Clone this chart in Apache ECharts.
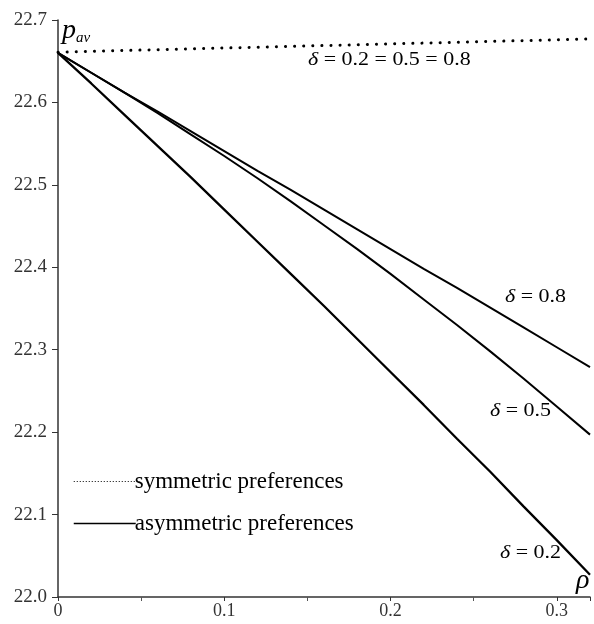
<!DOCTYPE html>
<html><head><meta charset="utf-8">
<script src="https://cdn.jsdelivr.net/npm/echarts@6/dist/echarts.min.js"></script>
<style>html,body{margin:0;padding:0;background:#fff}#c{width:594px;height:624px}</style>
</head><body><div id="c"></div>
<script>
const rho = [0, 0.02, 0.04, 0.06, 0.08, 0.10, 0.12, 0.14, 0.16, 0.18, 0.20, 0.22, 0.24, 0.26, 0.28, 0.30, 0.32];
const symmetric = [22.661, 22.662, 22.663, 22.664, 22.665, 22.666, 22.667, 22.668, 22.669, 22.670, 22.671, 22.672, 22.673, 22.674, 22.675, 22.676, 22.677];
const delta08 = [22.660, 22.636, 22.612, 22.589, 22.565, 22.541, 22.517, 22.494, 22.470, 22.446, 22.422, 22.398, 22.375, 22.351, 22.327, 22.303, 22.279];
const delta05 = [22.660, 22.636, 22.612, 22.587, 22.561, 22.535, 22.508, 22.480, 22.451, 22.422, 22.392, 22.361, 22.330, 22.298, 22.265, 22.231, 22.197];
const delta02 = [22.660, 22.623, 22.585, 22.547, 22.509, 22.470, 22.431, 22.392, 22.353, 22.313, 22.273, 22.233, 22.192, 22.152, 22.110, 22.069, 22.027];
const yTicks = [22.0, 22.1, 22.2, 22.3, 22.4, 22.5, 22.6, 22.7];
const xTicks = [0, 0.1, 0.2, 0.3];
const legendNames = ['symmetric preferences', 'asymmetric preferences'];
const curveLabels = ['δ = 0.2 = 0.5 = 0.8', 'δ = 0.8', 'δ = 0.5', 'δ = 0.2'];

const pair = arr => rho.map((r, i) => [r, arr[i]]);
const serif = '"Liberation Serif", "DejaVu Serif", serif';
const hidden = {color: '#000', opacity: 0};
const solid = {color: '#000', width: 2, type: 'solid'};

function deltaLabel(txt, left, top) {
  return {type: 'text', left: left, top: top, scaleX: 1.22,
    style: {text: txt.replace('δ', '{d|δ}'), fontFamily: serif, fontSize: 18, fill: '#000',
      rich: {d: {fontFamily: serif, fontStyle: 'italic', fontSize: 18, fill: '#000'}}}};
}

const chart = echarts.init(document.getElementById('c'));
chart.setOption({
  animation: false,
  backgroundColor: '#fff',
  grid: {left: 58, right: 4, top: 20, bottom: 27, containLabel: false},
  legend: {
    data: [
      {name: legendNames[0], lineStyle: {width: 1, type: [1, 2], cap: 'butt'}},
      {name: legendNames[1], lineStyle: {width: 1.5}}
    ],
    orient: 'vertical', left: 68, top: 465, itemGap: 19,
    itemWidth: 62, itemHeight: 21, selectedMode: false,
    textStyle: {fontFamily: serif, fontSize: 23, color: '#000', padding: [0, 0, 0, -6]}
  },
  xAxis: {
    type: 'value', min: 0, max: 0.32, interval: 0.1,
    axisLine: {lineStyle: {color: '#333', width: 1.5}},
    axisTick: {show: true, length: 4, lineStyle: {color: '#333'}},
    minorTick: {show: true, splitNumber: 2, length: 4, lineStyle: {color: '#555'}},
    splitLine: {show: false},
    axisLabel: {fontFamily: serif, fontSize: 18, color: '#333', margin: 5,
      formatter: v => { const t = xTicks.find(k => Math.abs(k - v) < 1e-6); return t === undefined ? '' : (t === 0 ? '0' : t.toFixed(1)); }}
  },
  yAxis: {
    type: 'value', min: 22.0, max: 22.7, interval: 0.1,
    axisLine: {show: true, lineStyle: {color: '#333', width: 1.5}},
    axisTick: {show: true, length: 6, lineStyle: {color: '#333'}},
    splitLine: {show: false},
    axisLabel: {fontFamily: serif, fontSize: 19, color: '#333', margin: 11,
      formatter: v => { const t = yTicks.find(k => Math.abs(k - v) < 1e-6); return t === undefined ? '' : t.toFixed(1); }}
  },
  series: [
    {name: legendNames[0], type: 'line', data: pair(symmetric), showSymbol: false, symbol: 'none',
      lineStyle: {color: '#000', width: 3, type: [0.1, 9], cap: 'round'}, itemStyle: hidden},
    {name: legendNames[1], type: 'line', data: pair(delta08), showSymbol: false, symbol: 'none',
      lineStyle: solid, itemStyle: hidden},
    {name: legendNames[1], type: 'line', data: pair(delta05), showSymbol: false, symbol: 'none',
      lineStyle: solid, itemStyle: hidden},
    {name: legendNames[1], type: 'line', data: pair(delta02), showSymbol: false, symbol: 'none',
      lineStyle: {color: '#000', width: 2.3}, itemStyle: hidden}
  ],
  graphic: [
    {type: 'text', left: 62, top: 17, style: {text: '{p|p}{s|av}', rich: {
      p: {fontFamily: serif, fontStyle: 'italic', fontSize: 28, fill: '#000'},
      s: {fontFamily: serif, fontStyle: 'italic', fontSize: 15, fill: '#000', padding: [14, 0, 0, 0]}}}},
    {type: 'text', left: 576, top: 567, style: {text: 'ρ', fontFamily: serif, fontStyle: 'italic', fontSize: 28, fill: '#000'}},
    deltaLabel(curveLabels[0], 308, 51),
    deltaLabel(curveLabels[1], 505, 288),
    deltaLabel(curveLabels[2], 490, 402),
    deltaLabel(curveLabels[3], 500, 544)
  ]
});
</script></body></html>
